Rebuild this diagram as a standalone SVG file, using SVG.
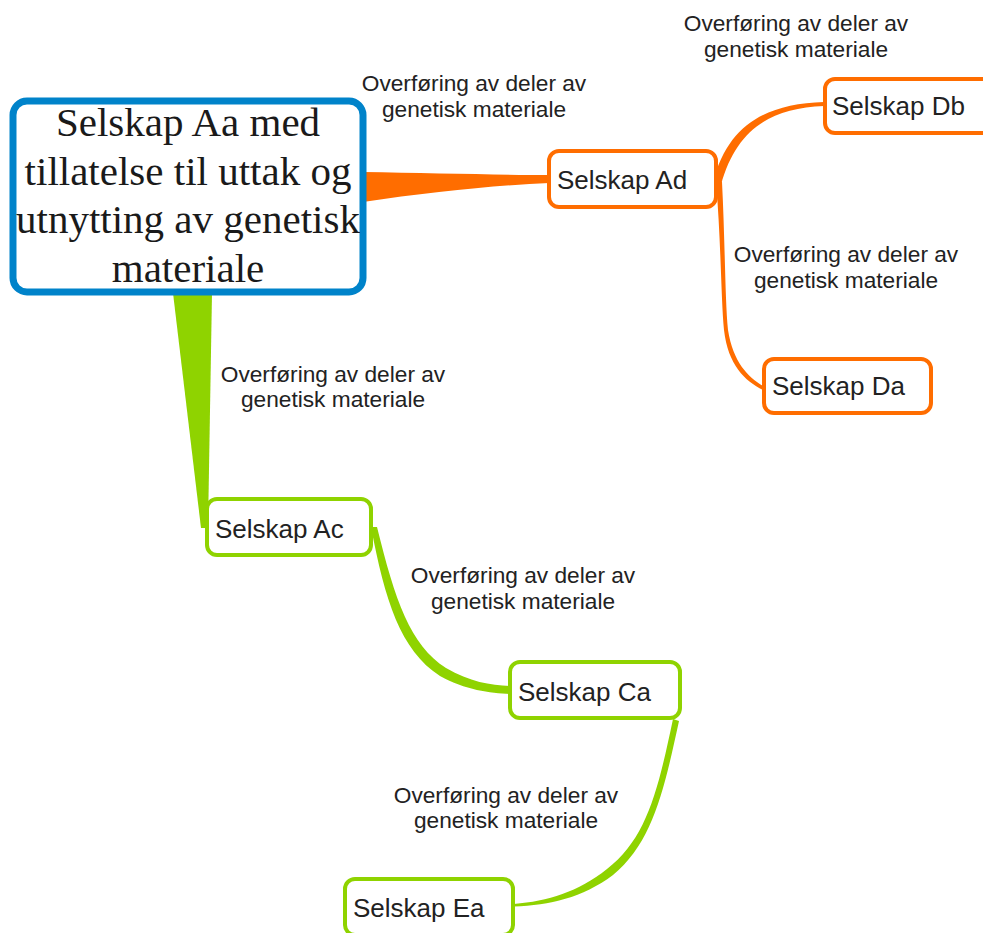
<svg xmlns="http://www.w3.org/2000/svg" width="983" height="933" viewBox="0 0 983 933">
<style>
.node{fill:#fff;stroke-width:4}
.o{stroke:#ff6d00}
.g{stroke:#8fd300}
.nt{font-family:"Liberation Sans",Arial,sans-serif;font-size:26px;fill:#222}
.lb{font-family:"Liberation Sans",Arial,sans-serif;font-size:22.7px;fill:#222;text-anchor:middle}
.main{font-family:"Liberation Serif","Times New Roman",serif;font-size:41px;fill:#1a1a1a;text-anchor:middle}
.fo{fill:#ff6d00}
.fg{fill:#8fd300}
</style>
<rect width="983" height="933" fill="#fff"/>
<g id="connectors">
<path class="fo" d="M363,172 C430,173 500,175 549,175 L549,183 C500,185 430,192 363,202 Z"/>
<path class="fo" d="M713,182 C728,125 765,104 824,102 L824,106 C770,108 736,130 721,185 Z"/>
<path class="fo" d="M716,182 C721,240 721,300 724,330 C728,365 745,381 763,390 L763,386 C748,377 733,362 728,330 C725,300 725,240 722,182 Z"/>
<path class="fg" d="M173,293 L212,293 L208,528 L201,528 Z"/>
<path class="fg" d="M371,527 C385,600 400,650 440,676 C465,690 490,693 510,694 L510,686 C490,685 470,682 446,668 C410,645 395,600 377,527 Z"/>
<path class="fg" d="M673,719 C658,790 647,838 607,869 C578,892 548,901 514,904 L514,906.5 C550,905 582,898 613,875 C653,842 664,790 679,721 Z"/>
</g>
<g id="node-aa">
<rect x="13" y="101" width="350" height="191" rx="14" fill="#fff" stroke="#0083ca" stroke-width="7"/>
<text class="main" x="188" y="136">Selskap Aa med</text>
<text class="main" x="188" y="185">tillatelse til uttak og</text>
<text class="main" x="188" y="233">utnytting av genetisk</text>
<text class="main" x="188" y="282">materiale</text>
</g>
<g id="node-ad">
<rect class="node o" x="549" y="151" width="167" height="56" rx="10"/>
<text class="nt" x="557" y="189">Selskap Ad</text>
</g>
<g id="node-db">
<rect class="node o" x="825" y="79" width="170" height="54" rx="10"/>
<text class="nt" x="832" y="115">Selskap Db</text>
</g>
<g id="node-da">
<rect class="node o" x="764" y="359" width="167" height="54" rx="10"/>
<text class="nt" x="772" y="395">Selskap Da</text>
</g>
<g id="node-ac">
<rect class="node g" x="207" y="499" width="164" height="56" rx="10"/>
<text class="nt" x="215" y="538">Selskap Ac</text>
</g>
<g id="node-ca">
<rect class="node g" x="510" y="662" width="170" height="56" rx="10"/>
<text class="nt" x="518" y="701">Selskap Ca</text>
</g>
<g id="node-ea">
<rect class="node g" x="345" y="879" width="168" height="56" rx="10"/>
<text class="nt" x="353" y="917">Selskap Ea</text>
</g>
<g id="labels">
<text class="lb" x="474" y="91">Overføring av deler av</text>
<text class="lb" x="474" y="117">genetisk materiale</text>
<text class="lb" x="796" y="31">Overføring av deler av</text>
<text class="lb" x="796" y="57">genetisk materiale</text>
<text class="lb" x="846" y="262">Overføring av deler av</text>
<text class="lb" x="846" y="288">genetisk materiale</text>
<text class="lb" x="333" y="382">Overføring av deler av</text>
<text class="lb" x="333" y="407">genetisk materiale</text>
<text class="lb" x="523" y="583">Overføring av deler av</text>
<text class="lb" x="523" y="609">genetisk materiale</text>
<text class="lb" x="506" y="803">Overføring av deler av</text>
<text class="lb" x="506" y="828">genetisk materiale</text>
</g>
</svg>
